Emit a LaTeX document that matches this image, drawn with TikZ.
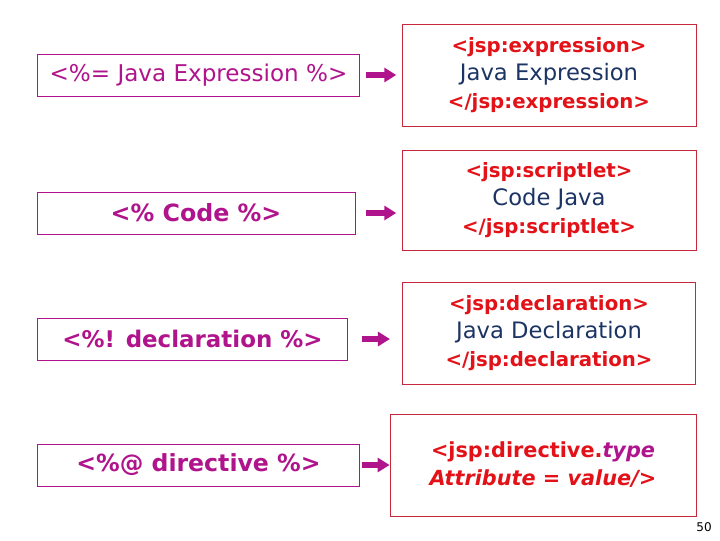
\documentclass[tikz,border=0pt]{standalone}
\usepackage{fontspec}
\setmainfont{DejaVu Sans}
\usetikzlibrary{arrows.meta}
\definecolor{jspmag}{RGB}{176,20,140}
\definecolor{jspred}{RGB}{226,18,24}
\definecolor{jspnavy}{RGB}{28,52,100}
\definecolor{boxred}{RGB}{200,40,60}

\begin{document}
\begin{tikzpicture}[x=0.75pt,y=-0.75pt,
    left/.style={draw=jspmag,line width=0.6pt,minimum height=31.5pt,inner sep=0pt,text=jspmag},
    right/.style={draw=boxred,line width=0.6pt,minimum height=76.5pt,inner sep=0pt,align=center,font=\fontsize{17}{21}\selectfont},
    go/.style={-{Triangle[length=9pt,width=10.5pt]},line width=4.5pt,draw=jspmag}]
    \useasboundingbox (0,0) rectangle (720,540);
    \newcommand{\tg}[1]{\textcolor{jspred}{\fontsize{14.8}{21}\selectfont\bfseries #1}}
    \newcommand{\jv}[1]{\textcolor{jspnavy}{#1}}
    % left column
    \node[left,minimum width=242pt,font=\fontsize{17.3}{20}\selectfont] (A) at (198.5,75) {<\%= Java Expression \%>};
    \node[left,minimum width=238.5pt,font=\fontsize{17.8}{22}\selectfont\bfseries] (B) at (196,213) {<\% Code \%>};
    \node[left,minimum width=233pt,font=\fontsize{17.2}{21}\selectfont\bfseries] (C) at (192.5,339) {<\%! declaration \%>};
    \node[left,minimum width=242pt,font=\fontsize{17.7}{21}\selectfont\bfseries] (D) at (198.5,465) {<\%@ directive \%>};
    % right column
    \node[right,minimum width=220.5pt] (E) at (549,75) {\tg{<jsp:expression>}\\ \jv{Java Expression}\\ \tg{</jsp:expression>}};
    \node[right,minimum width=220.5pt,minimum height=75pt] (F) at (549,200) {\tg{<jsp:scriptlet>}\\ \jv{Code Java}\\ \tg{</jsp:scriptlet>}};
    \node[right,minimum width=220pt] (G) at (549,333) {\tg{<jsp:declaration>}\\ \jv{Java Declaration}\\ \tg{</jsp:declaration>}};
    \node[right,minimum width=229.5pt,font=\fontsize{15.6}{21}\selectfont\bfseries] (H) at (543,465) {\textcolor{jspred}{<jsp:directive.}\textcolor{jspmag}{\itshape type}\\ \textcolor{jspred}{\itshape Attribute = value/>}};
    % arrows
    \draw[go,shorten <=4pt,shorten >=4pt] (A.east) -- (A.east-|E.west);
    \draw[go,shorten <=8pt,shorten >=4pt] (B.east) -- (B.east-|F.west);
    \draw[go,shorten <=10pt,shorten >=9pt] (C.east) -- (C.east-|G.west);
    \draw[go,shorten <=1.5pt,shorten >=0pt] (D.east) -- (H.west);
    \node[font=\fontsize{9}{10}\selectfont] (P) at (704,527) {50};
\end{tikzpicture}
\end{document}
